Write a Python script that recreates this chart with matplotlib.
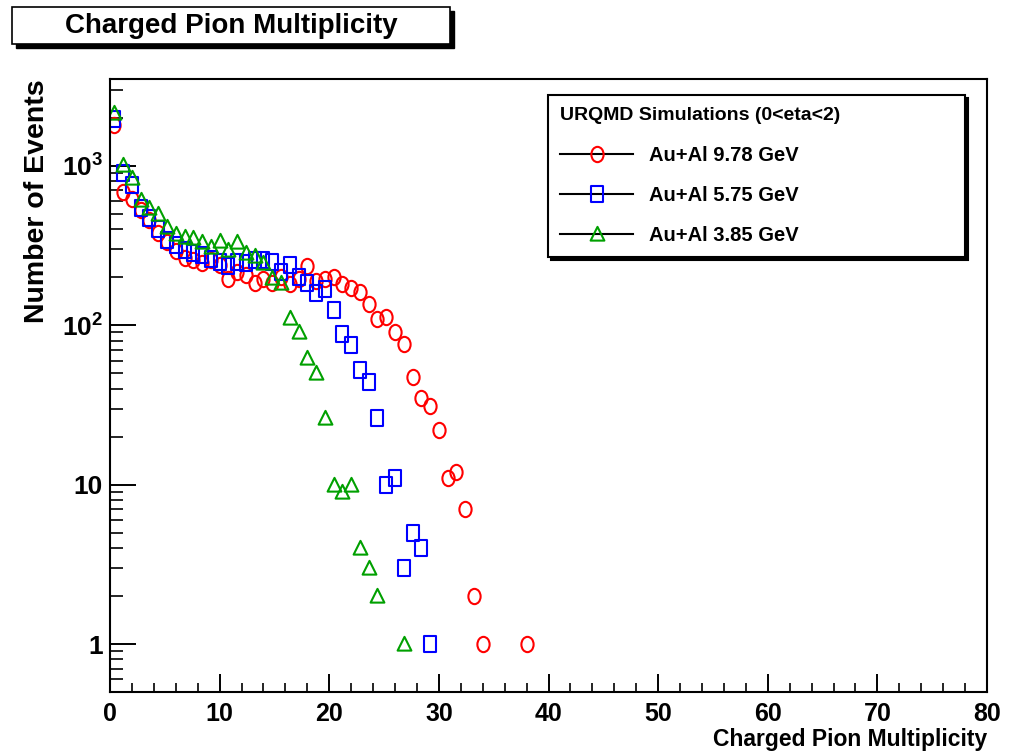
import matplotlib
matplotlib.use('Agg')
import matplotlib.pyplot as plt
from matplotlib.path import Path
from matplotlib.transforms import Affine2D
from matplotlib.lines import Line2D
from matplotlib.patches import Rectangle
from matplotlib.ticker import FixedLocator, MultipleLocator, FuncFormatter, LogLocator, NullFormatter

plt.rcParams['font.family'] = ['Liberation Sans', 'DejaVu Sans']
plt.rcParams['font.weight'] = 'bold'
plt.rcParams['axes.labelweight'] = 'bold'
plt.rcParams['mathtext.fontset'] = 'custom'
plt.rcParams['mathtext.rm'] = 'Liberation Sans:bold'
plt.rcParams['mathtext.default'] = 'rm'

# bin centres (0.8 wide bins); empty bins left out
x_978 = [0.4, 1.2, 2.0, 2.8, 3.6, 4.4, 5.2, 6.0, 6.8, 7.6, 8.4, 9.2, 10.0, 10.8, 11.6, 12.4,
         13.2, 14.0, 14.8, 15.6, 16.4, 17.2, 18.0, 18.8, 19.6, 20.4, 21.2, 22.0, 22.8, 23.6,
         24.4, 25.2, 26.0, 26.8, 27.6, 28.4, 29.2, 30.0, 30.8, 31.6, 32.4, 33.2, 34.0, 38.0]
y_978 = [1800, 680, 620, 530, 460, 380, 330, 290, 265, 255, 245, 255, 240, 195, 215, 205,
         185, 195, 185, 200, 180, 195, 235, 188, 195, 200, 182, 170, 162, 135,
         110, 112, 90, 76, 47, 35, 31, 22, 11, 12, 7, 2, 1, 1]

x_575 = [0.4, 1.2, 2.0, 2.8, 3.6, 4.4, 5.2, 6.0, 6.8, 7.6, 8.4, 9.2, 10.0, 10.8, 11.6, 12.4,
         13.2, 14.0, 14.8, 15.6, 16.4, 17.2, 18.0, 18.8, 19.6, 20.4, 21.2, 22.0, 22.8, 23.6,
         24.4, 25.2, 26.0, 26.8, 27.6, 28.4, 29.2]
y_575 = [1950, 900, 760, 540, 470, 400, 340, 320, 295, 285, 275, 260, 250, 235, 250, 245,
         255, 255, 250, 215, 240, 200, 185, 160, 168, 125, 88, 75, 52, 44,
         26, 10, 11, 3, 5, 4, 1]

x_385 = [0.4, 1.2, 2.0, 2.8, 3.6, 4.4, 5.2, 6.0, 6.8, 7.6, 8.4, 9.2, 10.0, 10.8, 11.6, 12.4,
         13.2, 14.0, 14.8, 15.6, 16.4, 17.2, 18.0, 18.8, 19.6, 20.4, 21.2, 22.0, 22.8, 23.6,
         24.4, 26.8]
y_385 = [2150, 1010, 840, 610, 545, 495, 415, 375, 355, 350, 330, 310, 335, 295, 330, 285,
         270, 245, 198, 185, 111, 91, 62, 50, 26, 10, 9, 10, 4, 3,
         2, 1]

labels = ['Au+Al 9.78 GeV', 'Au+Al 5.75 GeV', 'Au+Al 3.85 GeV']
colors = ['#ff0000', '#0000ff', '#00a000']

# ROOT markers look slightly stretched vertically
squash = Affine2D().scale(0.8, 1.0)
m_circle = squash.transform_path(Path.unit_circle())
m_square = Path([(-0.8, -1), (0.8, -1), (0.8, 1), (-0.8, 1), (-0.8, -1)],
                [Path.MOVETO, Path.LINETO, Path.LINETO, Path.LINETO, Path.CLOSEPOLY])
m_tri = Path([(-0.9, -0.8), (0.9, -0.8), (0, 1), (-0.9, -0.8)],
             [Path.MOVETO, Path.LINETO, Path.LINETO, Path.CLOSEPOLY])
markers = [m_circle, m_square, m_tri]

fig = plt.figure(figsize=(10.15, 7.56), dpi=100)
ax = fig.add_axes([110 / 1015, 64 / 756, 877 / 1015, 613 / 756])

series = [(x_978, y_978), (x_575, y_575), (x_385, y_385)]
for (xs, ys), c, m in zip(series, colors, markers):
    ax.plot(xs, ys, linestyle='none', marker=m, ms=11, mfc='none', mec=c, mew=1.5)

ax.set_yscale('log')
ax.set_xlim(0, 80)
ax.set_ylim(0.5, 3500)

ax.xaxis.set_major_locator(MultipleLocator(10))
ax.xaxis.set_minor_locator(MultipleLocator(2))
ax.yaxis.set_major_locator(FixedLocator([1, 10, 100, 1000]))
ax.yaxis.set_minor_locator(LogLocator(base=10, subs=range(2, 10)))
ax.yaxis.set_minor_formatter(NullFormatter())
ylab = {1: '1', 10: '10', 100: '10$^{2}$', 1000: '10$^{3}$'}
ax.yaxis.set_major_formatter(FuncFormatter(lambda v, p: ylab.get(int(round(v)), '')))

ax.tick_params(axis='x', which='major', direction='in', length=13, width=1.4, labelsize=18, pad=7)
ax.tick_params(axis='x', which='minor', direction='in', length=6.5, width=1.2)
ax.tick_params(axis='y', which='major', direction='in', length=19, width=1.4, labelsize=19, pad=5)
ax.tick_params(axis='y', which='minor', direction='in', length=9.5, width=1.2)
for s in ax.spines.values():
    s.set_linewidth(1.5)

ax.set_xlabel('Charged Pion Multiplicity', fontsize=16.5, loc='right')
ax.xaxis.set_label_coords(1.0, -0.058)
ax.set_ylabel('Number of Events', fontsize=20.5, loc='top')
ax.yaxis.set_label_coords(-0.068, 1.0)

# legend
handles = [Line2D([], [], color='black', lw=1.5, marker=m, ms=11, mfc='none', mec=c, mew=1.5)
           for m, c in zip(markers, colors)]
leg = ax.legend(handles, labels, title='URQMD Simulations (0<eta<2)', loc='upper left',
                bbox_to_anchor=(548 / 1015, 1 - 255 / 756, 417 / 1015, 160 / 756),
                bbox_transform=fig.transFigure, mode='expand', borderaxespad=0,
                fontsize=14.5, title_fontsize=14, alignment='left', fancybox=False,
                edgecolor='black', framealpha=1, handlelength=3.6, handletextpad=0.8,
                labelspacing=1.05, borderpad=0.62,
                shadow={'color': 'black', 'alpha': 1})
leg.get_frame().set_linewidth(1.5)
leg.get_title().set_fontweight('bold')

# title box with drop shadow
fig.add_artist(Rectangle((16 / 1015, 1 - 48 / 756), 438 / 1015, 37 / 756,
                         transform=fig.transFigure, facecolor='black', edgecolor='black'))
fig.add_artist(Rectangle((12 / 1015, 1 - 44 / 756), 438 / 1015, 37 / 756,
                         transform=fig.transFigure, facecolor='white', edgecolor='black', lw=1.2))
fig.text(231 / 1015, 1 - 26 / 756, 'Charged Pion Multiplicity', fontsize=20,
         ha='center', va='center')

fig.savefig('out.png', dpi=100)
